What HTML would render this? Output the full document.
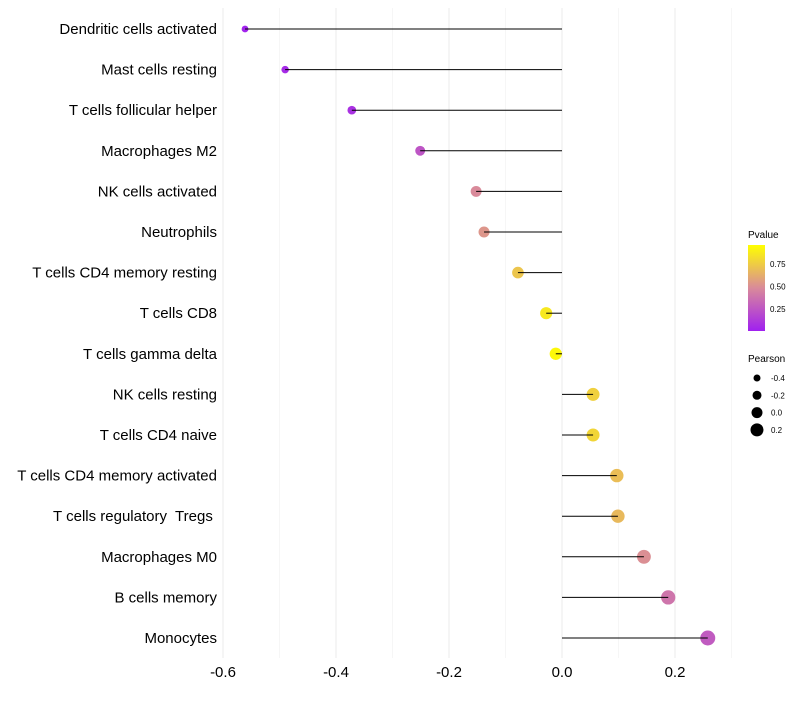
<!DOCTYPE html>
<html><head><meta charset="utf-8"><style>
body{margin:0;background:#fff;font-family:"Liberation Sans",sans-serif}
text{white-space:pre}
</style></head><body>
<svg id="c" width="800" height="700" xmlns="http://www.w3.org/2000/svg"></svg>
<script>
const categories=["Dendritic cells activated","Mast cells resting","T cells follicular helper","Macrophages M2","NK cells activated","Neutrophils","T cells CD4 memory resting","T cells CD8","T cells gamma delta","NK cells resting","T cells CD4 naive","T cells CD4 memory activated","T cells regulatory  Tregs ","Macrophages M0","B cells memory","Monocytes"];
const pearson=[-0.561,-0.49,-0.372,-0.251,-0.152,-0.138,-0.078,-0.028,-0.011,0.055,0.055,0.097,0.099,0.145,0.188,0.258];
const pvalue=[0.02,0.05,0.08,0.25,0.5,0.55,0.75,0.9,0.97,0.8,0.82,0.72,0.7,0.52,0.4,0.28];
const xTicks=[-0.6,-0.4,-0.2,0.0,0.2];
const xTickLabels=["-0.6","-0.4","-0.2","0.0","0.2"];
const pTicks=[0.25,0.5,0.75];
const sizeTicks=[-0.4,-0.2,0.0,0.2];
const NS="http://www.w3.org/2000/svg";
const svg=document.getElementById('c');
const xs=v=>562+v*565;
const ys=i=>29+i*40.6;
const rs=v=>Math.max(1.5,6.2+5*v);
function col(p){const a=[160,32,240],m=[217,138,154],b=[255,255,0];let s,e,t;if(p<0.5){s=a;e=m;t=p/0.5}else{s=m;e=b;t=(p-0.5)/0.5}return `rgb(${s.map((c,k)=>Math.round(c+(e[k]-c)*t)).join(',')})`}
function mk(tag,attrs,txt){const el=document.createElementNS(NS,tag);for(const k in attrs)el.setAttribute(k,attrs[k]);if(txt!==undefined)el.textContent=txt;svg.appendChild(el);return el}
for(let i=0;i<=9;i++){const v=-0.6+i*0.1;const g=mk('line',{x1:xs(v),x2:xs(v),y1:8,y2:658,stroke:i%2===0?'#ebebeb':'#f6f6f6','stroke-width':1});

}
xTicks.forEach((v,i)=>{const t=mk('text',{x:xs(v),y:677,'text-anchor':'middle','font-size':15,fill:'#000'},xTickLabels[i]);

});
categories.forEach((c,i)=>{const y=ys(i);
const l=mk('text',{x:217,y:y+5,'text-anchor':'end','font-size':15,fill:'#000'},c);


const pt=mk('circle',{cx:xs(pearson[i]),cy:y,r:rs(pearson[i]),fill:col(pvalue[i])});


const ln=mk('line',{x1:xs(0),x2:xs(pearson[i]),y1:y,y2:y,stroke:'#000','stroke-width':1});

});
const defs=mk('defs',{});const lg=document.createElementNS(NS,'linearGradient');lg.setAttribute('id','pg');lg.setAttribute('x1','0');lg.setAttribute('y1','1');lg.setAttribute('x2','0');lg.setAttribute('y2','0');
[0,0.25,0.5,0.75,1].forEach(p=>{const s=document.createElementNS(NS,'stop');s.setAttribute('offset',p);s.setAttribute('stop-color',col(p));lg.appendChild(s)});defs.appendChild(lg);
const pt1=mk('text',{x:748,y:238,'font-size':10,fill:'#000'},'Pvalue');


const bar=mk('rect',{x:748,y:245,width:17,height:86,fill:'url(#pg)'});


pTicks.forEach(p=>{const y=331.5-p*90;
const t=mk('text',{x:770,y:y+3,'font-size':8,fill:'#000'},p.toFixed(2));

});
const st=mk('text',{x:748,y:362,'font-size':10,fill:'#000'},'Pearson');


sizeTicks.forEach((v,i)=>{const y=378+i*17.3;
const c=mk('circle',{cx:757,cy:y,r:3.5+i,fill:'#000'});


const t=mk('text',{x:771,y:y+3,'font-size':8,fill:'#000'},v===0?'0.0':String(v));

});
</script></body></html>
